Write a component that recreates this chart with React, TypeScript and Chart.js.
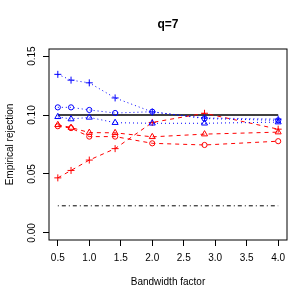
import React, { useEffect, useRef } from "react";
import { Chart, registerables } from "chart.js";

Chart.register(...registerables);

const bandwidths = [0.5, 0.71, 1.0, 1.41, 2.0, 2.83, 4.0];
const xTicks = [0.5, 1.0, 1.5, 2.0, 2.5, 3.0, 3.5, 4.0];
const yTicks = [0.0, 0.05, 0.1, 0.15];
const yTickLabels = ["0.00", "0.05", "0.10", "0.15"];

const bluePlus = [0.1345, 0.1296, 0.1273, 0.1145, 0.1026, 0.0975, 0.0965];
const blueCircle = [0.1065, 0.1065, 0.1043, 0.1017, 0.1028, 0.097, 0.0955];
const blueTriangle = [0.0985, 0.0966, 0.098, 0.0935, 0.093, 0.093, 0.094];
const redPlus = [0.0467, 0.053, 0.0618, 0.0715, 0.0937, 0.1015, 0.088];
const redCircle = [0.0905, 0.0889, 0.0817, 0.0817, 0.076, 0.0746, 0.0778];
const redTriangle = [0.0917, 0.0894, 0.0851, 0.0849, 0.0815, 0.0838, 0.0855];
const nominalLevel = [0.1, 0.1];
const lowerLevel = [0.023, 0.023];
const levelX = [0.5, 4.0];

const titleText = "q=7";
const xTitle = "Bandwidth factor";
const yTitle = "Empirical rejection";

const FONT = "'Liberation Sans', Arial, Helvetica, sans-serif";

function pts(xs: number[], ys: number[]) {
  return xs.map((x, i) => ({ x, y: ys[i] }));
}

const textPlugin = {
  id: "rText",
  afterDraw(chart: any) {
    const ctx = chart.ctx;
    const a = chart.chartArea;
    const ys = chart.scales.y;
    ctx.save();
    ctx.strokeStyle = "#000";
    ctx.lineWidth = 1;
    ctx.strokeRect(a.left, a.top, a.right - a.left, a.bottom - a.top);
    ctx.fillStyle = "#000";
    ctx.font = `10px ${FONT}`;
    ctx.textAlign = "center";
    ctx.textBaseline = "middle";
    yTicks.forEach((v, i) => {
      const y = ys.getPixelForValue(v);
      ctx.save();
      ctx.translate(32, y);
      ctx.rotate(-Math.PI / 2);
      ctx.fillText(yTickLabels[i], 0, 0);
      ctx.restore();
    });
    const cx = (a.left + a.right) / 2;
    const cy = (a.top + a.bottom) / 2;
    ctx.save();
    ctx.translate(10, cy);
    ctx.rotate(-Math.PI / 2);
    ctx.fillText(yTitle, 0, 0);
    ctx.restore();
    ctx.fillText(xTitle, cx, 282);
    ctx.font = `bold 12px ${FONT}`;
    ctx.fillText(titleText, cx, 25);
    ctx.restore();
  },
};

export default function App() {
  const ref = useRef<HTMLCanvasElement | null>(null);
  useEffect(() => {
    if (!ref.current) return;
    const blue = "#0000FF";
    const red = "#FF0000";
    const mk = (
      data: number[],
      color: string,
      style: string,
      radius: number,
      dash: number[]
    ) => ({
      data: pts(bandwidths, data),
      borderColor: color,
      borderWidth: 1,
      borderDash: dash,
      pointStyle: style,
      pointRadius: radius,
      pointBorderColor: color,
      pointBackgroundColor: "rgba(0,0,0,0)",
      pointBorderWidth: 1,
      fill: false,
      tension: 0,
    });
    const chart = new Chart(ref.current, {
      type: "line",
      data: {
        datasets: [
          mk(bluePlus, blue, "cross", 3.5, [1, 3]),
          mk(blueCircle, blue, "circle", 2.6, [1, 3]),
          mk(blueTriangle, blue, "triangle", 3.5, [1, 3]),
          mk(redPlus, red, "cross", 3.5, [4, 4]),
          mk(redCircle, red, "circle", 2.6, [4, 4]),
          mk(redTriangle, red, "triangle", 3.5, [4, 4]),
          {
            data: pts(levelX, nominalLevel),
            borderColor: "#000",
            borderWidth: 1.4,
            pointRadius: 0,
            fill: false,
          },
          {
            data: pts(levelX, lowerLevel),
            borderColor: "#000",
            borderWidth: 1,
            borderDash: [1, 3, 4, 3],
            pointRadius: 0,
            fill: false,
          },
        ] as any,
      },
      options: {
        responsive: false,
        animation: false,
        devicePixelRatio: 1,
        layout: { padding: { top: 49, right: 13, left: 0, bottom: 0 } },
        plugins: {
          legend: { display: false },
          title: { display: false },
          tooltip: { enabled: false },
        },
        scales: {
          x: {
            type: "linear",
            min: 0.36,
            max: 4.14,
            afterBuildTicks: (s: any) => {
              s.ticks = xTicks.map((v) => ({ value: v }));
            },
            afterFit: (s: any) => {
              s.height = 60;
            },
            grid: {
              drawOnChartArea: false,
              drawTicks: true,
              tickLength: 6,
              color: "#000",
            },
            border: { display: false },
            ticks: {
              color: "#000",
              font: { family: FONT, size: 10 },
              padding: 6,
              maxRotation: 0,
              callback: (v: any) => Number(v).toFixed(1),
            },
          },
          y: {
            type: "linear",
            min: -0.006,
            max: 0.156,
            afterBuildTicks: (s: any) => {
              s.ticks = yTicks.map((v) => ({ value: v }));
            },
            afterFit: (s: any) => {
              s.width = 49;
            },
            grid: {
              drawOnChartArea: false,
              drawTicks: true,
              tickLength: 6,
              color: "#000",
            },
            border: { display: false },
            ticks: { display: false },
          },
        },
      } as any,
      plugins: [textPlugin],
    });
    return () => chart.destroy();
  }, []);
  return (
    <div style={{ position: "fixed", left: 0, top: 0, width: 300, height: 300, background: "#fff" }}>
      <canvas ref={ref} width={300} height={300} style={{ display: "block" }} />
    </div>
  );
}
